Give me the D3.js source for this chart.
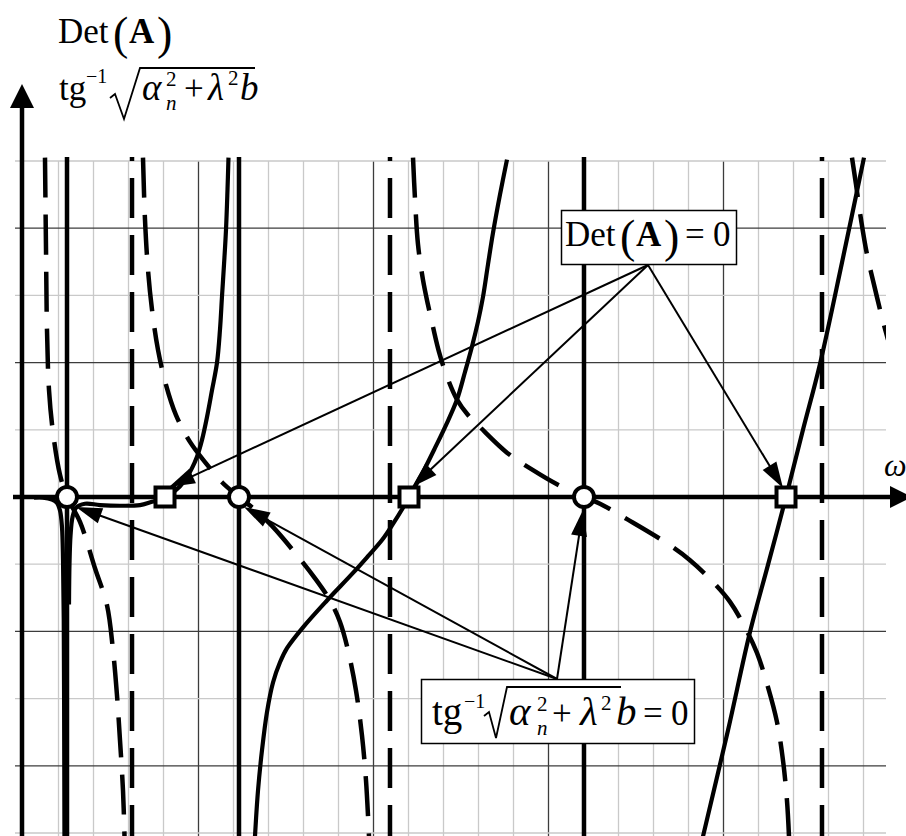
<!DOCTYPE html>
<html>
<head>
<meta charset="utf-8">
<script src="https://cdn.jsdelivr.net/npm/d3@7"></script>
<style>
  html, body { margin: 0; padding: 0; background: #fff; }
  svg { display: block; }
  text { font-family: "Liberation Serif", "Times New Roman", serif; fill: #000; }
</style>
</head>
<body>
<svg id="chart" width="906" height="836"></svg>
<script>
// ---- grid: one unit per minor column (ω) and per minor row ----
const xCols = d3.range(1, 25);                 // vertical grid lines
const yRows = d3.range(-5, 6).filter(v => v);  // horizontal grid lines

// ---- Det(A): solid branches, [ω, value] ----
const detBranch0 = [[0.30,-0.01],[0.557,-0.01],[0.814,-0.04],[0.957,-0.09],[1.043,-0.20],[1.10,-0.45],
  [1.129,-0.94],[1.15,-1.83],[1.16,-3.03],[1.17,-5.05]];
const detBranch1 = [[1.30,-1.60],[1.314,-1.00],[1.343,-0.58],[1.40,-0.30],[1.50,-0.16],[1.757,-0.10],
  [2.186,-0.12],[2.757,-0.13],[3.329,-0.12],[3.671,-0.07],[3.90,-0.04],[4.043,0],[4.329,0.09],
  [4.614,0.25],[4.814,0.43],[4.957,0.60],[5.10,0.85],[5.243,1.19],[5.386,1.59],[5.529,2.00],
  [5.614,2.49],[5.671,2.98],[5.729,3.46],[5.786,3.98],[5.829,4.58],[5.857,5.05]];
const detBranch2 = [[6.614,-5.05],[6.70,-4.37],[6.814,-3.77],[6.957,-3.20],[7.129,-2.76],[7.329,-2.46],
  [7.529,-2.25],[7.986,-1.94],[8.671,-1.54],[9.414,-1.13],[9.843,-0.88],[10.243,-0.64],[10.557,-0.40],
  [10.843,-0.16],[11.014,0],[11.214,0.18],[11.471,0.43],[11.757,0.73],[12.071,1.07],[12.386,1.45],
  [12.614,1.86],[12.814,2.24],[12.986,2.61],[13.129,2.98],[13.271,3.46],[13.414,3.93],[13.614,4.50],
  [13.814,5.02]];
const detBranch3 = [[19.414,-5.05],[20.129,-3.47],[20.757,-2.01],[21.271,-1.01],[21.786,0],[22.271,1.00],
  [22.757,1.98],[23.386,3.49],[24.014,5.05]];
const detPoles = [1.243, 6.157, 16.014];
const detZeros = [4.043, 11.014, 21.786];

// ---- tg^-1 sqrt(α_n² + λ²) b: dashed branches ----
const tgBranch0 = [[0.614,5.05],[0.643,3.68],[0.671,2.49],[0.729,1.59],[0.843,0.96],[1.043,0.33],[1.243,0],
  [1.614,-0.37],[2.043,-1.06],[2.386,-1.61],[2.557,-2.28],[2.671,-2.95],[2.757,-3.62],[2.843,-4.37],[2.886,-5.05]];
const tgBranch1 = [[3.414,5.05],[3.471,4.13],[3.557,3.38],[3.671,2.79],[3.843,2.19],[4.071,1.67],[4.357,1.22],
  [4.757,0.82],[5.186,0.52],[5.671,0.22],[6.157,0],[6.614,-0.19],[7.10,-0.43],[7.757,-0.83],[8.329,-1.21],
  [8.757,-1.54],[9.043,-1.86],[9.271,-2.28],[9.50,-2.88],[9.671,-3.55],[9.786,-4.22],[9.871,-5.05]];
const tgBranch2 = [[11.129,5.05],[11.186,4.43],[11.271,3.76],[11.414,3.23],[11.557,2.86],[11.70,2.53],
  [11.871,2.16],[12.10,1.79],[12.386,1.45],[12.70,1.22],[13.043,1.04],[13.814,0.66],[14.557,0.40],
  [15.243,0.19],[16.014,0],[16.471,-0.10],[17.243,-0.33],[18.386,-0.69],[19.043,-0.94],[19.671,-1.25],
  [20.186,-1.56],[20.614,-1.94],[20.957,-2.32],[21.271,-2.83],[21.529,-3.35],[21.70,-3.92],[21.814,-4.52],
  [21.871,-5.05]];
const tgBranch3 = [[23.671,5.05],[23.786,4.65],[23.929,4.13],[24.10,3.61],[24.30,3.16],[24.529,2.67],[24.70,2.34]];
const tgPoles = [3.10, 10.471, 22.814];
const tgZeros = [1.243, 6.157, 16.014];

const detBranches = [detBranch0, detBranch1, detBranch2, detBranch3];
const tgBranches = [tgBranch0, tgBranch1, tgBranch2, tgBranch3];

// ---- scales ----
const x = d3.scaleLinear().domain([0, 24]).range([23.5, 863.5]);
const y = d3.scaleLinear().domain([-5, 5]).range([833, 161]);

const svg = d3.select("#chart");
const TOP = 157, BOTTOM = 836, RIGHT = 886, LEFT = 15;

svg.append("defs").append("clipPath").attr("id", "plotClip")
  .append("rect").attr("x", 21).attr("y", TOP).attr("width", RIGHT - 21).attr("height", BOTTOM - TOP);

// grid
const grid = svg.append("g");
grid.selectAll("line.v").data(xCols).join("line")
  .attr("x1", d => x(d)).attr("x2", d => x(d))
  .attr("y1", y(5)).attr("y2", BOTTOM)
  .attr("stroke", d => d % 5 === 0 ? "#3c3c3c" : "#c9c9c9")
  .attr("stroke-width", 1.3);
grid.selectAll("line.h").data(yRows).join("line")
  .attr("x1", LEFT).attr("x2", RIGHT)
  .attr("y1", d => y(d)).attr("y2", d => y(d))
  .attr("stroke", d => d % 2 === 0 ? "#3c3c3c" : "#c9c9c9")
  .attr("stroke-width", 1.3);

const plot = svg.append("g").attr("clip-path", "url(#plotClip)");
const DASH = "40,17";

// asymptotes
plot.selectAll("line.tgPole").data(tgPoles).join("line")
  .attr("x1", d => x(d)).attr("x2", d => x(d)).attr("y1", TOP).attr("y2", BOTTOM)
  .attr("stroke", "#000").attr("stroke-width", 4.5)
  .attr("stroke-dasharray", DASH).attr("stroke-dashoffset", 36);
plot.selectAll("line.detPole").data(detPoles).join("line")
  .attr("x1", d => x(d)).attr("x2", d => x(d)).attr("y1", TOP).attr("y2", BOTTOM)
  .attr("stroke", "#000").attr("stroke-width", 4.5);

const curve = d3.line().x(d => x(d[0])).y(d => y(d[1])).curve(d3.curveCatmullRom.alpha(0.5));

plot.selectAll("path.tg").data(tgBranches).join("path")
  .attr("d", curve).attr("fill", "none").attr("stroke", "#000")
  .attr("stroke-width", 4.5).attr("stroke-dasharray", DASH);
plot.selectAll("path.det").data(detBranches).join("path")
  .attr("d", curve).attr("fill", "none").attr("stroke", "#000")
  .attr("stroke-width", 4.2);

// axes
const axes = svg.append("g");
const y0 = y(0), xAx = 22;
axes.append("line").attr("x1", 13).attr("x2", 892).attr("y1", y0).attr("y2", y0)
  .attr("stroke", "#000").attr("stroke-width", 4.5);
axes.append("path").attr("d", `M890,${y0 - 11}L912,${y0}L890,${y0 + 11}Z`).attr("fill", "#000");
axes.append("line").attr("x1", xAx).attr("x2", xAx).attr("y1", BOTTOM).attr("y2", 104)
  .attr("stroke", "#000").attr("stroke-width", 4.5);
axes.append("path").attr("d", `M${xAx - 12},108L${xAx},84L${xAx + 12},108Z`).attr("fill", "#000");

// annotation arrows
const ann = svg.append("g");
function arrow(sx, sy, tx, ty) {
  const dx = tx - sx, dy = ty - sy, L = Math.hypot(dx, dy), ux = dx / L, uy = dy / L;
  const hl = 26, hw = 8, bx = tx - ux * hl, by = ty - uy * hl;
  ann.append("line").attr("x1", sx).attr("y1", sy).attr("x2", bx + ux * 3).attr("y2", by + uy * 3)
    .attr("stroke", "#000").attr("stroke-width", 2);
  ann.append("path")
    .attr("d", `M${tx},${ty}L${bx - uy * hw},${by + ux * hw}L${bx + uy * hw},${by - ux * hw}Z`)
    .attr("fill", "#000");
}
const detSrc = [648, 265], tgSrc = [557, 679];
const detTipOff = [[4, -10], [3, -10], [-3, -9]];
const tgTipOff = [[9, 10], [5, 10], [-1, 13]];
detZeros.forEach((z, i) => arrow(detSrc[0], detSrc[1], x(z) + detTipOff[i][0], y0 + detTipOff[i][1]));
tgZeros.forEach((z, i) => arrow(tgSrc[0], tgSrc[1], x(z) + tgTipOff[i][0], y0 + tgTipOff[i][1]));

// markers
const marks = svg.append("g");
marks.selectAll("circle").data(tgZeros).join("circle")
  .attr("cx", d => x(d)).attr("cy", y0).attr("r", 10)
  .attr("fill", "#fff").attr("stroke", "#000").attr("stroke-width", 4);
marks.selectAll("rect").data(detZeros).join("rect")
  .attr("x", d => x(d) - 9.5).attr("y", y0 - 9.5).attr("width", 19).attr("height", 19)
  .attr("fill", "#fff").attr("stroke", "#000").attr("stroke-width", 4);

// ---- formula text helpers ----
function txt(g, s, px, py, size, o = {}) {
  return g.append("text").attr("x", px).attr("y", py).attr("font-size", size)
    .attr("font-style", o.italic ? "italic" : null)
    .attr("font-weight", o.bold ? "bold" : null)
    .text(s);
}
function detFormula(g, ox, base, withZero) {
  txt(g, "Det", ox, base, 35);
  txt(g, "(", ox + 55, base + 6, 46);
  txt(g, "A", ox + 71, base, 35, { bold: true });
  txt(g, ")", ox + 99, base + 6, 46);
  if (withZero) {
    txt(g, "=", ox + 120, base, 35);
    txt(g, "0", ox + 148, base, 35);
  }
}
function tgFormula(g, p, base, withZero) {
  txt(g, "tg", p.tg, base, p.fs);
  txt(g, "\u22121", p.m1, base - 17, 20);
  g.append("path").attr("d", p.rad).attr("fill", "none").attr("stroke", "#000").attr("stroke-width", 1.8);
  txt(g, "\u03B1", p.al, base, p.fs + 2, { italic: true });
  txt(g, "2", p.s1, base - 14, 21);
  txt(g, "n", p.s1, base + 10, 21, { italic: true });
  txt(g, "+", p.plus, base, 35);
  txt(g, "\u03BB", p.lam, base, p.fs + 2, { italic: true });
  txt(g, "2", p.s2, base - 15, 21);
  txt(g, "b", p.b, base, p.fs + 2, { italic: true });
  if (withZero) {
    txt(g, "=", p.eq, base, 35);
    txt(g, "0", p.zero, base, 35);
  }
}

// axis titles
const titles = svg.append("g");
detFormula(titles, 58, 43, false);
tgFormula(titles, { fs: 35, tg: 59, m1: 86, al: 142, s1: 166, plus: 184, lam: 208, s2: 228, b: 240,
  rad: "M110,98L115,94L124,119L140,68L255,68" }, 100, false);
txt(titles, "\u03C9", 884, 476, 32, { italic: true });

// boxed annotations
const boxes = svg.append("g");
boxes.append("rect").attr("x", 561.5).attr("y", 210.5).attr("width", 175).attr("height", 54)
  .attr("fill", "#fff").attr("stroke", "#000").attr("stroke-width", 1.5);
detFormula(boxes, 565, 246, true);
boxes.append("rect").attr("x", 421.5).attr("y", 679.5).attr("width", 273).attr("height", 64)
  .attr("fill", "#fff").attr("stroke", "#000").attr("stroke-width", 1.5);
tgFormula(boxes, { fs: 39, tg: 432, m1: 464, al: 509, s1: 537, plus: 552, lam: 580, s2: 601,
  b: 616, eq: 643, zero: 671, rad: "M484,716L489,712L496,738L507,687L621,687" }, 725, true);
</script>
</body>
</html>
